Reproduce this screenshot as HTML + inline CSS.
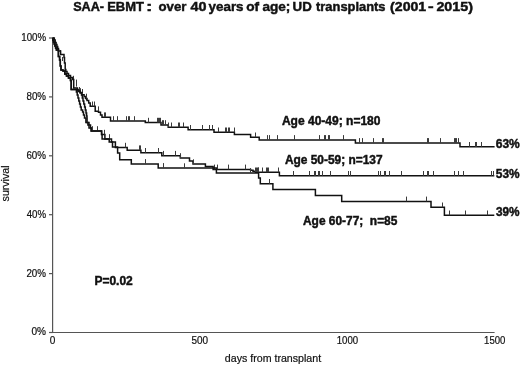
<!DOCTYPE html>
<html><head><meta charset="utf-8"><style>
html,body{margin:0;padding:0;background:#fff;}
svg{display:block;will-change:transform;}
text{font-family:"Liberation Sans",sans-serif;white-space:pre;}
.c{fill:none;stroke:#111;stroke-width:1.5;}
.t{fill:none;stroke:#3a3a3a;stroke-width:1;}
.ax{fill:none;stroke:#555;stroke-width:1.2;}
.yl,.xl{fill:#111;stroke:#111;stroke-width:0.2;}
.b{font-weight:bold;fill:#111;stroke:#111;stroke-width:0.45;}
</style></head><body>
<svg width="520" height="365" viewBox="0 0 520 365">
<rect width="520" height="365" fill="#fff"/>
<text x="73.14" y="10.90" class="b" font-size="13" textLength="30.87" lengthAdjust="spacingAndGlyphs">SAA-</text>
<text x="107.13" y="10.90" class="b" font-size="13" textLength="36.81" lengthAdjust="spacingAndGlyphs">EBMT</text>
<text x="146.05" y="10.90" class="b" font-size="13" textLength="6.39" lengthAdjust="spacingAndGlyphs">:</text>
<text x="158.48" y="10.90" class="b" font-size="13" textLength="27.92" lengthAdjust="spacingAndGlyphs">over</text>
<text x="190.58" y="10.90" class="b" font-size="13" textLength="16.01" lengthAdjust="spacingAndGlyphs">40</text>
<text x="208.60" y="10.90" class="b" font-size="13" textLength="34.95" lengthAdjust="spacingAndGlyphs">years</text>
<text x="246.27" y="10.90" class="b" font-size="13" textLength="12.91" lengthAdjust="spacingAndGlyphs">of</text>
<text x="262.50" y="10.90" class="b" font-size="13" textLength="27.89" lengthAdjust="spacingAndGlyphs">age;</text>
<text x="292.60" y="10.90" class="b" font-size="13" textLength="19.15" lengthAdjust="spacingAndGlyphs">UD</text>
<text x="316.04" y="10.90" class="b" font-size="13" textLength="69.49" lengthAdjust="spacingAndGlyphs">transplants</text>
<text x="390.10" y="10.90" class="b" font-size="13" textLength="36.10" lengthAdjust="spacingAndGlyphs">(2001</text>
<text x="428.14" y="10.90" class="b" font-size="13" textLength="5.64" lengthAdjust="spacingAndGlyphs">-</text>
<text x="436.40" y="10.90" class="b" font-size="13" textLength="36.61" lengthAdjust="spacingAndGlyphs">2015)</text>
<path d="M52.6 38.0V332.5H494.6" class="ax"/>
<path d="M49 38.0H52.6" class="ax"/>
<text x="21.26" y="40.90" class="yl" font-size="10" textLength="24.78" lengthAdjust="spacingAndGlyphs">100%</text>
<path d="M49 96.9H52.6" class="ax"/>
<text x="26.48" y="99.80" class="yl" font-size="10" textLength="19.57" lengthAdjust="spacingAndGlyphs">80%</text>
<path d="M49 155.8H52.6" class="ax"/>
<text x="26.40" y="158.70" class="yl" font-size="10" textLength="19.65" lengthAdjust="spacingAndGlyphs">60%</text>
<path d="M49 214.7H52.6" class="ax"/>
<text x="26.68" y="217.60" class="yl" font-size="10" textLength="19.37" lengthAdjust="spacingAndGlyphs">40%</text>
<path d="M49 273.6H52.6" class="ax"/>
<text x="26.41" y="276.50" class="yl" font-size="10" textLength="19.64" lengthAdjust="spacingAndGlyphs">20%</text>
<path d="M49 332.5H52.6" class="ax"/>
<text x="31.51" y="335.40" class="yl" font-size="10" textLength="14.55" lengthAdjust="spacingAndGlyphs">0%</text>
<text x="49.81" y="343.90" class="xl" font-size="10" textLength="5.58" lengthAdjust="spacingAndGlyphs">0</text>
<text x="191.50" y="343.90" class="xl" font-size="10" textLength="16.59" lengthAdjust="spacingAndGlyphs">500</text>
<text x="336.77" y="343.90" class="xl" font-size="10" textLength="21.41" lengthAdjust="spacingAndGlyphs">1000</text>
<text x="484.07" y="343.90" class="xl" font-size="10" textLength="21.30" lengthAdjust="spacingAndGlyphs">1500</text>

<text x="-0.29" y="0" transform="translate(8.9,201.1) rotate(-90)" class="xl" font-size="10" textLength="35.90" lengthAdjust="spacingAndGlyphs">survival</text>
<path d="M60.5 50.0V54.5M62.5 57.0V61.0M73.5 75.8V81.2M76.5 79.6V86.6M79.5 87.0V91.0M82.5 89.0V93.0M86.5 96.5V100.0" class="t"/>
<path d="M52.6 38.0H54.3V40.0H55.2V42.5H56.1V44.5H56.9V46.5H57.7V48.5H58.5V51.0H60.6V54.5H64.0V57.5H64.5V63.0H65.2V69.6H65.8V71.5H67.0V73.5H68.5V75.5H70.5V77.5H72.5V79.5H73.7V88.0H77.4V90.0H78.5V91.5H80.2V93.0H82.0V94.8H84.1V96.5H85.5V98.5H87.0V100.5H88.7V103.0H90.2V106.3H95.2V111.2H98.5V112.3H100.5V115.0H102.0V117.2H110.5V121.0H145.3V122.6H161.0V125.0H168.2V127.3H188.1V129.8H214.0V132.3H234.4V134.5H250.6V137.3H259.2V139.9H355.4V142.9H460.0V146.8H494.6" class="c"/>
<path d="M80.5 88.2V93.0M86.5 93.7V98.5M92.5 101.5V106.3M94.5 101.5V106.3M98.5 106.4V111.2M105.5 112.4V117.2M104.5 112.4V117.2M113.5 116.2V121.0M117.5 116.2V121.0M126.5 116.2V121.0M128.5 116.2V121.0M129.5 116.2V121.0M134.5 116.2V121.0M148.5 117.8V122.6M157.5 117.8V122.6M158.5 117.8V122.6M159.5 117.8V122.6M160.5 117.8V122.6M162.5 120.2V125.0M163.5 120.2V125.0M165.5 120.2V125.0M168.5 122.5V127.3M171.5 122.5V127.3M178.5 122.5V127.3M179.5 122.5V127.3M183.5 122.5V127.3M190.5 125.0V129.8M190.5 125.0V129.8M202.5 125.0V129.8M209.5 125.0V129.8M212.5 125.0V129.8M218.5 127.5V132.3M225.5 127.5V132.3M226.5 127.5V132.3M228.5 127.5V132.3M229.5 127.5V132.3M234.5 127.5V132.3M255.5 132.5V137.3M267.5 135.1V139.9M269.5 135.1V139.9M277.5 135.1V139.9M294.5 135.1V139.9M319.5 135.1V139.9M324.5 135.1V139.9M325.5 135.1V139.9M328.5 135.1V139.9M329.5 135.1V139.9M343.5 135.1V139.9M359.5 138.1V142.9M362.5 138.1V142.9M373.5 138.1V142.9M382.5 138.1V142.9M383.5 138.1V142.9M427.5 138.1V142.9M428.5 138.1V142.9M440.5 138.1V142.9M454.5 138.1V142.9M455.5 138.1V142.9M456.5 138.1V142.9M458.5 138.1V142.9M469.5 142.0V146.8M475.5 142.0V146.8M476.5 142.0V146.8M481.5 142.0V146.8" class="t"/>
<path d="M52.6 38.0H52.9V40.0H53.5V42.0H54.2V44.0H54.9V46.0H55.6V48.0H56.4V50.0H58.4V56.5H59.6V60.0H60.3V66.0H61.0V70.0H63.0V71.0H64.8V74.0H66.5V76.0H68.5V78.0H70.5V80.5H71.2V89.5H78.0V91.0H80.0V92.5H81.5V95.0H82.3V98.0H83.0V101.0H83.8V104.0H84.6V107.0H85.3V110.0H86.0V113.0H86.6V116.0H87.0V122.5H89.0V125.0H90.5V128.0H91.2V131.0H101.6V134.6H104.9V139.0H111.5V142.1H115.4V147.6H127.2V150.2H140.9V152.8H161.8V155.7H180.3V158.0H189.5V160.9H193.0V164.1H205.4V166.4H213.1V169.4H250.6V170.2H253.0V171.3H255.5V172.3H279.4V175.8H494.3" class="c"/>
<path d="M87.5 117.7V122.5M92.5 126.2V131.0M97.5 126.2V131.0M104.5 129.8V134.6M109.5 134.2V139.0M125.5 142.8V147.6M139.5 145.4V150.2M140.5 145.4V150.2M145.5 148.0V152.8M158.5 148.0V152.8M163.5 150.9V155.7M175.5 150.9V155.7M180.5 153.2V158.0M193.5 159.3V164.1M214.5 164.6V169.4M217.5 164.6V169.4M228.5 164.6V169.4M245.5 164.6V169.4M255.5 167.5V172.3M256.5 167.5V172.3M257.5 167.5V172.3M258.5 167.5V172.3M258.5 167.5V172.3M262.5 167.5V172.3M266.5 167.5V172.3M267.5 167.5V172.3M268.5 167.5V172.3M278.5 167.5V172.3M293.5 171.0V175.8M309.5 171.0V175.8M314.5 171.0V175.8M315.5 171.0V175.8M318.5 171.0V175.8M319.5 171.0V175.8M322.5 171.0V175.8M330.5 171.0V175.8M348.5 171.0V175.8M350.5 171.0V175.8M378.5 171.0V175.8M380.5 171.0V175.8M384.5 171.0V175.8M385.5 171.0V175.8M389.5 171.0V175.8M401.5 171.0V175.8M423.5 171.0V175.8M427.5 171.0V175.8M428.5 171.0V175.8M433.5 171.0V175.8M454.5 171.0V175.8M458.5 171.0V175.8M463.5 171.0V175.8M491.5 171.0V175.8M493.5 171.0V175.8" class="t"/>
<path d="M52.6 38.0H52.9V40.0H53.5V42.0H54.2V44.0H54.9V46.0H55.6V48.0H56.4V50.0H58.4V56.5H59.6V60.0H60.3V66.0H61.0V70.0H63.0V71.0H64.8V74.0H66.5V76.0H68.5V78.0H70.5V80.5H71.2V89.5H76.4V92.0H77.2V95.0H78.0V98.0H78.8V101.0H79.6V104.0H80.4V107.0H81.2V110.0H82.6V112.0H83.5V115.0H84.5V118.0H85.9V122.5H87.9V125.0H89.0V128.0H91.2V131.0H101.6V134.6H102.1V139.0H109.2V142.1H112.5V147.0H117.6V153.0H119.7V159.7H131.3V163.9H158.2V168.1H216.4V172.9H258.6V178.0H260.3V183.8H272.9V189.4H315.4V195.4H341.7V201.4H431.0V207.3H444.4V215.3H494.3" class="c"/>
<path d="M145.5 159.1V163.9M163.5 163.3V168.1M163.5 163.3V168.1M184.5 163.3V168.1M250.5 168.1V172.9M269.5 179.0V183.8M406.5 196.6V201.4M426.5 196.6V201.4M442.5 202.5V207.3M449.5 210.5V215.3M465.5 210.5V215.3M487.5 210.5V215.3" class="t"/>

<text x="281.90" y="124.60" class="b" font-size="12" textLength="98.59" lengthAdjust="spacingAndGlyphs">Age 40-49; n=180</text>
<text x="284.90" y="163.60" class="b" font-size="12" textLength="97.62" lengthAdjust="spacingAndGlyphs">Age 50-59; n=137</text>
<text x="303.00" y="225.00" class="b" font-size="12" textLength="94.33" lengthAdjust="spacingAndGlyphs">Age 60-77;  n=85</text>
<text x="495.76" y="147.60" class="b" font-size="12" textLength="24.06" lengthAdjust="spacingAndGlyphs">63%</text>
<text x="495.83" y="177.60" class="b" font-size="12" textLength="23.78" lengthAdjust="spacingAndGlyphs">53%</text>
<text x="495.93" y="216.00" class="b" font-size="12" textLength="23.68" lengthAdjust="spacingAndGlyphs">39%</text>
<text x="94.40" y="284.50" class="b" font-size="12" textLength="38.38" lengthAdjust="spacingAndGlyphs">P=0.02</text>
<text x="224.85" y="362.30" class="xl" font-size="10.5" textLength="96.32" lengthAdjust="spacingAndGlyphs">days from transplant</text>
</svg>
</body></html>
